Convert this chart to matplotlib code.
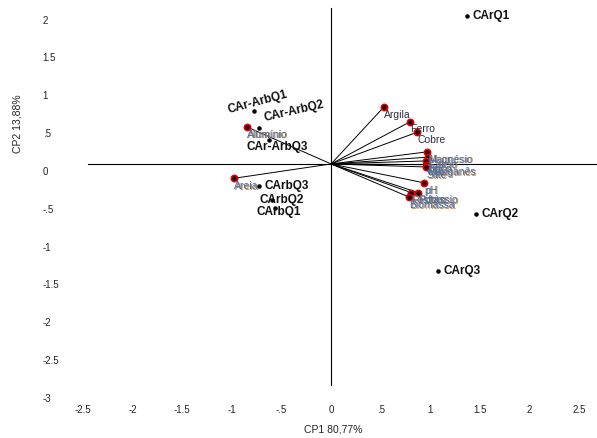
import matplotlib
matplotlib.use("Agg")
import matplotlib.pyplot as plt
import matplotlib.transforms as mtransforms

plt.rcParams['font.family'] = ['Liberation Sans', 'DejaVu Sans']

# scores (sample groups)
score_names = ['CArQ1', 'CArQ2', 'CArQ3', 'CAr-ArbQ1', 'CAr-ArbQ2', 'CAr-ArbQ3',
               'CArbQ3', 'CArbQ2', 'CArbQ1']
score_x = [1.37, 1.46, 1.08, -0.78, -0.73, -0.63, -0.73, -0.60, -0.57]
score_y = [1.96, -0.66, -1.41, 0.70, 0.48, 0.32, -0.29, -0.48, -0.58]

# loadings (variables)
var_names = ['Argila', 'Ferro', 'Cobre', 'Magnésio', 'Cálcio', 'Zinco', 'Manganês',
             'Silte', 'pH', 'Potássio', 'Fósforo', 'Biomassa', 'Alumínio', 'Areia']
var_x = [0.53, 0.80, 0.87, 0.97, 0.98, 0.96, 0.97, 0.96, 0.94, 0.88, 0.81, 0.79, -0.85, -0.98]
var_y = [0.75, 0.56, 0.42, 0.16, 0.09, 0.04, -0.01, -0.04, -0.25, -0.38, -0.38, -0.44, 0.49, -0.19]

xticks = [-2.5, -2, -1.5, -1, -0.5, 0, 0.5, 1, 1.5, 2, 2.5]
xtick_labels = ['-2.5', '-2', '-1.5', '-1', '-.5', '0', '.5', '1', '1.5', '2', '2.5']
yticks = [2, 1.5, 1, 0.5, 0, -0.5, -1, -1.5, -2, -2.5, -3]
ytick_labels = ['2', '1.5', '1', '.5', '0', '-.5', '-1', '-1.5', '-2', '-2.5', '-3']

# label placement for the scores: (dx, dy in points, ha, rotation)
score_style = {
    'CArQ1': (4, 0, 'left', 0),
    'CArQ2': (4, 0, 'left', 0),
    'CArQ3': (4, 0, 'left', 0),
    'CAr-ArbQ1': (3, 6, 'center', 15),
    'CAr-ArbQ2': (4, 7, 'left', 13),
    'CAr-ArbQ3': (-16, -5, 'left', 0),
    'CArbQ3': (4, 0, 'left', 0),
    'CArbQ2': (-9, 0, 'left', 0),
    'CArbQ1': (-13, -3, 'left', 0),
}
dark_vars = ['Argila', 'Ferro', 'Cobre']

fig = plt.figure(figsize=(5.97, 4.38), dpi=100)
ax = fig.add_axes([83 / 597, 1 - 391 / 438, 516 / 597, 386 / 438])
ax.set_xlim(-2.5, 2.7)
ax.set_ylim(-3, 2.1)
for s in ax.spines.values():
    s.set_visible(False)

# axis lines through origin
ax.plot([-2.45, 2.7], [0, 0], color='black', lw=0.8, zorder=1)
ax.plot([0, 0], [-2.92, 2.06], color='black', lw=0.8, zorder=1)

# loading vectors
for vx, vy in zip(var_x, var_y):
    ax.plot([0, vx], [0, vy], color='black', lw=0.7, zorder=2)
ax.scatter(var_x, var_y, s=20, facecolor='#1a0000', edgecolor='#e00000', linewidth=1.2, zorder=4)

for name, vx, vy in zip(var_names, var_x, var_y):
    if name in dark_vars:
        ax.annotate(name, (vx, vy), xytext=(0, -2), textcoords='offset points',
                    ha='left', va='top', fontsize=7.5, color='#2e2e3e', zorder=5)
    else:
        ax.annotate(name, (vx, vy), xytext=(0.6, -2.6), textcoords='offset points',
                    ha='left', va='top', fontsize=7.5, color='#c8823c', zorder=5)
        ax.annotate(name, (vx, vy), xytext=(0, -2), textcoords='offset points',
                    ha='left', va='top', fontsize=7.5, color='#3a6fb5', zorder=6)

# scores
ax.scatter(score_x, score_y, s=5, color='black', zorder=5)
for name, sx, sy in zip(score_names, score_x, score_y):
    dx, dy, ha, rot = score_style[name]
    ax.annotate(name, (sx, sy), xytext=(dx, dy), textcoords='offset points',
                ha=ha, va='center', rotation=rot, rotation_mode='anchor',
                fontsize=8.5, fontweight='bold', color='#111111', zorder=7)

ax.set_xticks(xticks)
ax.set_xticklabels(xtick_labels)
ax.set_yticks(yticks)
ax.set_yticklabels(ytick_labels)
ax.tick_params(axis='both', length=0, labelsize=7, labelcolor='#222222')
ax.tick_params(axis='x', pad=10)
ax.tick_params(axis='y', pad=29)
off = mtransforms.ScaledTranslation(0, -7 / 100, fig.dpi_scale_trans)
for lab in ax.get_yticklabels():
    lab.set_horizontalalignment('left')
    lab.set_transform(lab.get_transform() + off)

fig.text(333 / 597, 1 - 430 / 438, 'CP1 80,77%', ha='center', va='center', fontsize=7.5, color='#222222')
fig.text(17 / 597, 1 - 124 / 438, 'CP2 13,88%', ha='center', va='center', rotation=90,
         fontsize=7.5, color='#222222')

fig.savefig('out.png', dpi=100)
